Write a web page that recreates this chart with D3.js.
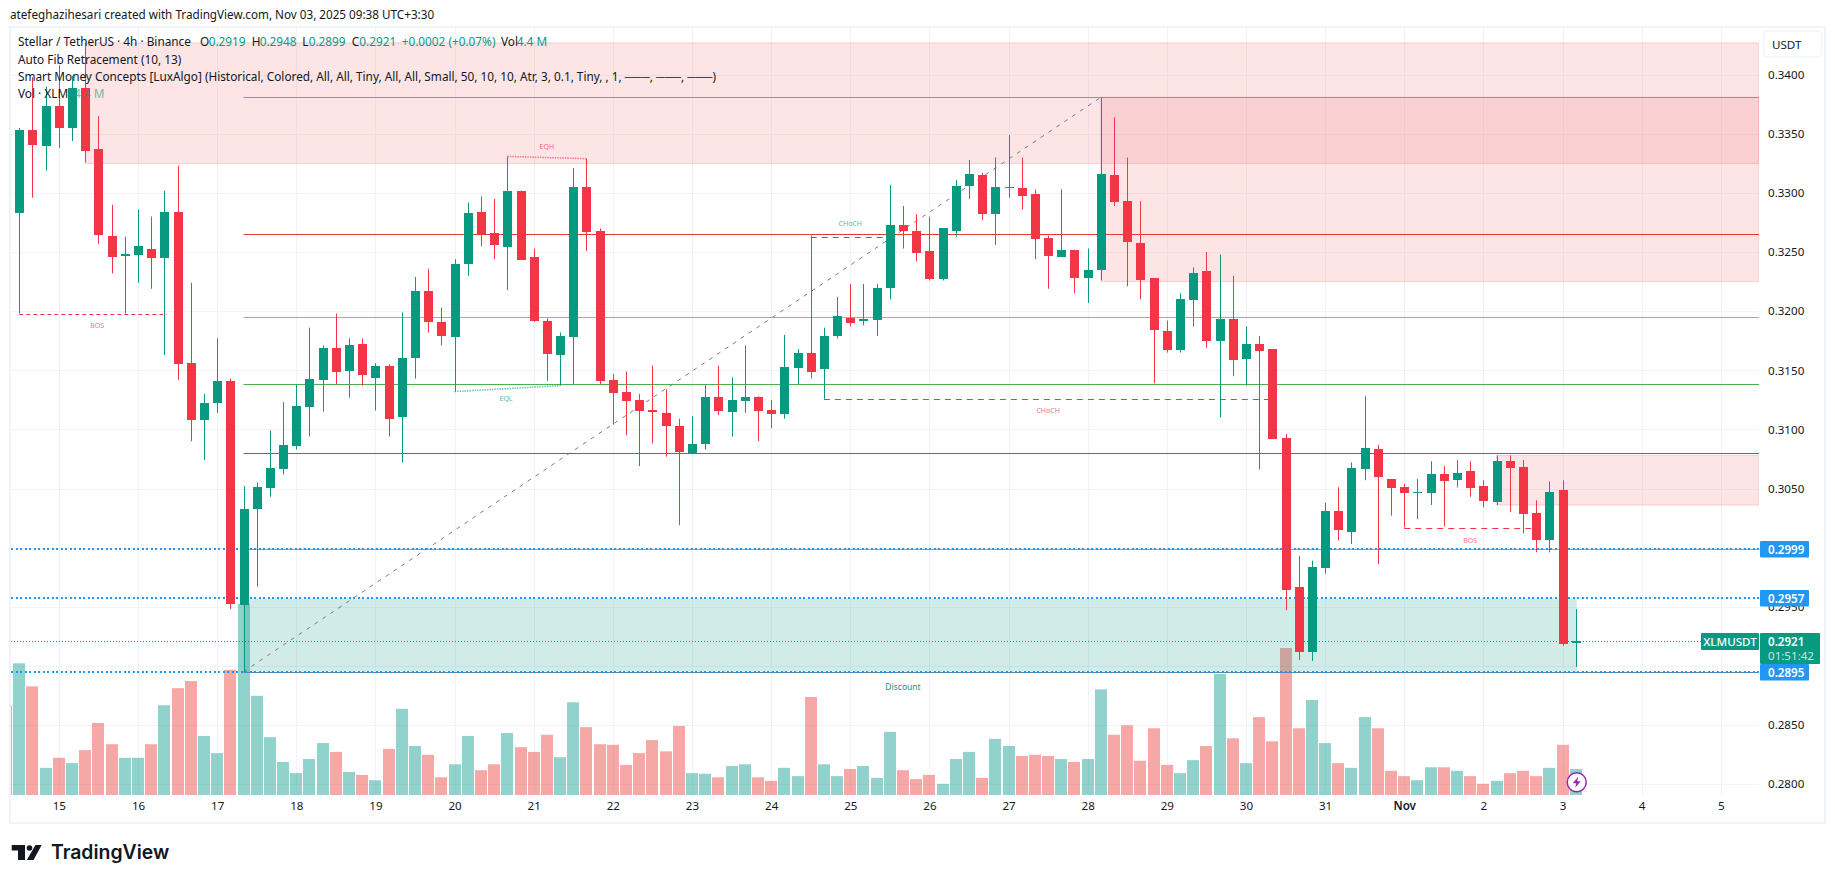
<!DOCTYPE html>
<html>
<head>
<meta charset="utf-8">
<script src="https://cdn.jsdelivr.net/npm/d3@7/dist/d3.min.js"></script>
<style>
    html, body { margin: 0; padding: 0; background: #fff; }
    svg { display: block; }
    text { font-family: "Noto Sans", sans-serif; fill: #131722; }
</style>
</head>
<body>
<svg id="chart" width="1835" height="883"></svg>
<script>
// ohlc po 4h svickach, prvni svicka je schovana za levym okrajem
const opens = [null,
    0.3283,0.3353,0.3340,0.3374,0.3355,0.3389,0.3337,0.3264,0.3246,0.3247,
    0.3253,0.3245,0.3284,0.3156,0.3108,0.3122,0.3141,0.2952,0.3032,0.3050,
    0.3067,0.3086,0.3119,0.3142,0.3169,0.3149,0.3172,0.3144,0.3154,0.3110,
    0.3160,0.3217,0.3191,0.3178,0.3240,0.3284,0.3266,0.3255,0.3302,0.3246,
    0.3192,0.3163,0.3178,0.3305,0.3268,0.3142,0.3132,0.3125,0.3116,0.3114,
    0.3103,0.3080,0.3087,0.3127,0.3115,0.3124,0.3127,0.3116,0.3113,0.3152,
    0.3165,0.3151,0.3179,0.3194,0.3191,0.3193,0.3220,0.3273,0.3268,0.3251,
    0.3227,0.3268,0.3306,0.3315,0.3282,0.3304,0.3304,0.3299,0.3262,0.3246,
    0.3252,0.3228,0.3235,0.3315,0.3293,0.3258,0.3228,0.3183,0.3167,0.3209,
    0.3234,0.3174,0.3193,0.3159,0.3172,0.3168,0.3093,0.2967,0.2912,0.2983,
    0.3031,0.3013,0.3066,0.3083,0.3058,0.3051,0.3046,0.3046,0.3062,0.3057,
    0.3065,0.3052,0.3038,0.3073,0.3068,0.3029,0.3006,0.3049,0.2919];
const highs = [null,
    0.3355,0.3398,0.3390,0.3408,0.3399,0.3427,0.3365,0.3290,0.3263,0.3286,
    0.3280,0.3302,0.3323,0.3224,0.3130,0.3177,0.3143,0.3052,0.3055,0.3099,
    0.3123,0.3138,0.3186,0.3171,0.3198,0.3177,0.3177,0.3156,0.3155,0.3199,
    0.3229,0.3236,0.3203,0.3244,0.3292,0.3297,0.3295,0.3331,0.3302,0.3253,
    0.3194,0.3182,0.3321,0.3329,0.3270,0.3147,0.3149,0.3130,0.3154,0.3134,
    0.3109,0.3111,0.3138,0.3154,0.3144,0.3171,0.3128,0.3125,0.3180,0.3168,
    0.3264,0.3186,0.3212,0.3223,0.3223,0.3223,0.3307,0.3289,0.3282,0.3280,
    0.3270,0.3311,0.3328,0.3317,0.3330,0.3349,0.3330,0.3303,0.3264,0.3303,
    0.3252,0.3253,0.3381,0.3364,0.3330,0.3293,0.3228,0.3192,0.3215,0.3237,
    0.3250,0.3248,0.3230,0.3187,0.3179,0.3168,0.3096,0.2993,0.2989,0.3038,
    0.3051,0.3072,0.3128,0.3087,0.3058,0.3054,0.3058,0.3073,0.3069,0.3074,
    0.3073,0.3057,0.3078,0.3078,0.3074,0.3040,0.3056,0.3057,0.2948];
const lows = [null,
    0.3198,0.3296,0.3319,0.3338,0.3344,0.3326,0.3257,0.3232,0.3198,0.3224,
    0.3219,0.3163,0.3142,0.3090,0.3074,0.3114,0.2948,0.2895,0.2967,0.3043,
    0.3062,0.3083,0.3094,0.3115,0.3138,0.3127,0.3137,0.3116,0.3094,0.3072,
    0.3143,0.3182,0.3171,0.3132,0.3230,0.3255,0.3244,0.3218,0.3244,0.3191,
    0.3141,0.3137,0.3138,0.3251,0.3138,0.3104,0.3095,0.3069,0.3088,0.3077,
    0.3019,0.3079,0.3083,0.3112,0.3094,0.3114,0.3090,0.3101,0.3109,0.3138,
    0.3143,0.3126,0.3177,0.3187,0.3188,0.3179,0.3210,0.3253,0.3242,0.3226,
    0.3226,0.3263,0.3295,0.3277,0.3256,0.3296,0.3286,0.3244,0.3219,0.3246,
    0.3215,0.3207,0.3226,0.3289,0.3221,0.3210,0.3139,0.3165,0.3165,0.3187,
    0.3169,0.3110,0.3145,0.3137,0.3066,0.3092,0.2947,0.2905,0.2904,0.2978,
    0.3006,0.3003,0.3057,0.2986,0.3027,0.3017,0.3024,0.3036,0.3018,0.3051,
    0.3043,0.3034,0.3036,0.3030,0.3012,0.2996,0.2996,0.2917,0.2899];
const closes = [null,
    0.3353,0.3340,0.3374,0.3355,0.3389,0.3336,0.3264,0.3246,0.3248,0.3255,
    0.3245,0.3284,0.3155,0.3108,0.3122,0.3141,0.2952,0.3033,0.3051,0.3067,
    0.3087,0.3120,0.3143,0.3169,0.3149,0.3171,0.3146,0.3154,0.3109,0.3160,
    0.3217,0.3191,0.3179,0.3240,0.3283,0.3265,0.3256,0.3302,0.3244,0.3192,
    0.3164,0.3179,0.3305,0.3267,0.3141,0.3131,0.3124,0.3116,0.3114,0.3103,
    0.3081,0.3088,0.3127,0.3115,0.3125,0.3127,0.3115,0.3113,0.3153,0.3165,
    0.3149,0.3179,0.3196,0.3190,0.3193,0.3220,0.3273,0.3268,0.3249,0.3227,
    0.3270,0.3306,0.3316,0.3282,0.3305,0.3305,0.3297,0.3261,0.3247,0.3252,
    0.3228,0.3235,0.3316,0.3292,0.3258,0.3227,0.3184,0.3167,0.3210,0.3232,
    0.3175,0.3193,0.3158,0.3172,0.3166,0.3092,0.2964,0.2912,0.2984,0.3031,
    0.3015,0.3067,0.3084,0.3059,0.3050,0.3046,0.3047,0.3062,0.3056,0.3063,
    0.3051,0.3039,0.3073,0.3067,0.3028,0.3006,0.3047,0.2919,0.2921];
// objem v milionech, index 0 patri schovane svicce
const volumes = [15.2,
    22.3,18.4,4.6,6.3,5.4,7.6,12.2,8.6,6.3,6.3,
    8.6,15.2,18.1,19.3,10.0,7.1,21.2,32.4,16.8,9.8,
    5.6,3.7,6.1,8.8,7.3,3.9,3.4,2.5,7.8,14.6,
    8.3,6.8,3.0,5.2,10.0,4.2,5.2,10.5,8.1,7.3,
    10.2,6.4,15.7,11.5,8.6,8.5,5.1,7.1,9.3,7.4,
    11.7,3.7,3.6,3.0,4.9,5.2,3.0,2.4,4.6,3.2,
    16.6,5.2,3.2,4.4,4.9,2.9,10.7,4.2,2.7,3.4,
    1.9,6.1,7.3,2.9,9.5,8.3,6.6,6.8,6.6,6.1,
    5.6,6.1,17.9,10.2,11.8,5.8,11.3,5.1,3.7,5.9,
    8.3,20.5,9.6,5.4,13.2,9.1,24.9,11.3,16.1,8.8,
    5.4,4.6,13.2,11.3,4.1,3.2,2.5,4.7,4.7,4.1,
    3.2,1.9,2.4,3.7,4.1,3.2,4.6,8.5,4.4];

const priceTicks = [0.3400,0.3350,0.3300,0.3250,0.3200,0.3150,0.3100,0.3050,0.3000,0.2950,0.2900,0.2850,0.2800];
// 0.3000 a 0.2900 jsou v originale schovane pod popisky alertu
const priceLabels = [0.3400,0.3350,0.3300,0.3250,0.3200,0.3150,0.3100,0.3050,0.2950,0.2850,0.2800];
const dayBars = [4,10,16,22,28,34,40,46,52,58,64,70,76,82,88,94,100,106,112,118,124,130];
const dayLabels = ["15","16","17","18","19","20","21","22","23","24","25","26","27","28","29","30","31","Nov","2","3","4","5"];

// zony: ceny a svicka, kde zacinaji
const zoneTops = [0.3427,0.3381,0.3078,0.2957];
const zoneBottoms = [0.3325,0.3225,0.3036,0.2895];
const zoneStarts = [6,83,113,18];
// urovne fibonacciho
const fibPrices = [0.3381,0.3265,0.3195,0.3138,0.3080,0.2999,0.2895];
const fibLine = {bars: [18,83], prices: [0.2895,0.3381]};
// alerty vpravo
const alertPrices = [0.2999,0.2957,0.2895];
// BOS / CHoCH
const breakNames = ["BOS","CHoCH","CHoCH","BOS"];
const breakPrices = [0.3198,0.3263,0.3126,0.3017];
const breakFrom = [1,61,62,106];
const breakTo = [12.2,67,96,116];
// EQH / EQL
const equalNames = ["EQH","EQL"];
const equalFrom = [38,34];
const equalTo = [44,42];
const equalFromPrice = [0.3331,0.3132];
const equalToPrice = [0.3329,0.3137];
const lastPrice = 0.2921;

const GREEN = "#089981", RED = "#f23645", BLUE = "#2196f3", GRID = "#f0f3fa";
const plotLeft = 11, plotRight = 1759, plotTop = 28, plotBottom = 795;

const svg = d3.select("#chart");
const x = d3.scaleLinear().domain([0, 130]).range([6.1, 1720.8]);
const y = d3.scaleLinear().domain([0.2800, 0.3400]).range([784, 74.8]);
const yVol = d3.scaleLinear().domain([0, 24.9]).range([plotBottom, 648]);
// zaokrouhleni na cele pixely, at jsou cary ostre
const px = v => Math.round(v) + 0.5;

svg.append("defs").append("clipPath").attr("id", "plot")
    .append("rect").attr("x", plotLeft).attr("y", plotTop)
    .attr("width", plotRight - plotLeft).attr("height", plotBottom - plotTop);

// horni titulek
svg.append("text").attr("x", 10).attr("y", 19).attr("font-size", 11.7)
    .text("atefeghazihesari created with TradingView.com, Nov 03, 2025 09:38 UTC+3:30");

// ramecek grafu
svg.append("rect").attr("x", 10).attr("y", 27).attr("width", 1815).attr("height", 796)
    .attr("fill", "none").attr("stroke", GRID).attr("stroke-width", 2);

// mrizka
const grid = svg.append("g").attr("stroke", GRID);
grid.selectAll("line.h").data(priceTicks).join("line").attr("class", "h")
    .attr("x1", plotLeft).attr("x2", plotRight).attr("y1", d => px(y(d))).attr("y2", d => px(y(d)));
grid.selectAll("line.v").data(dayBars).join("line").attr("class", "v")
    .attr("x1", d => px(x(d))).attr("x2", d => px(x(d))).attr("y1", plotTop).attr("y2", plotBottom);

const plot = svg.append("g").attr("clip-path", "url(#plot)");

// objem
plot.append("g").attr("opacity", 0.5).selectAll("rect").data(volumes).join("rect")
    .attr("x", (d, i) => Math.round(x(i) - 6))
    .attr("width", 12)
    .attr("y", d => yVol(d))
    .attr("height", d => plotBottom - yVol(d))
    .attr("fill", (d, i) => (i === 0 || closes[i] >= opens[i]) ? "#26a69a" : "#ef5350");

// zony
const zones = zoneTops.map((t, i) => i);
plot.append("g").selectAll("rect").data(zones).join("rect")
    .attr("x", i => x(zoneStarts[i]))
    .attr("width", i => (i === 3 ? x(119) + 1 : plotRight) - x(zoneStarts[i]))
    .attr("y", i => y(zoneTops[i]))
    .attr("height", i => y(zoneBottoms[i]) - y(zoneTops[i]))
    .attr("fill", i => i === 3 ? "rgba(8,153,129,0.185)" : "rgba(247,124,128,0.2)")
    .attr("stroke", i => i === 3 ? "none" : "rgba(247,124,128,0.3)");

// fib urovne
const fibColors = ["#8c94b3", "#e53935", "#81c784", "#4caf50", GREEN, "#64b5f6", "#787b86"];
plot.append("g").selectAll("line").data(fibPrices).join("line")
    .attr("x1", x(18)).attr("x2", plotRight)
    .attr("y1", d => px(y(d))).attr("y2", d => px(y(d)))
    .attr("stroke", (d, i) => fibColors[i]);
plot.append("line")
    .attr("x1", x(fibLine.bars[0])).attr("y1", y(fibLine.prices[0]))
    .attr("x2", x(fibLine.bars[1])).attr("y2", y(fibLine.prices[1]))
    .attr("stroke", "#787b86").attr("stroke-dasharray", "4,5.5");

// teckovane alerty a posledni cena
plot.append("g").selectAll("line").data(alertPrices).join("line")
    .attr("x1", plotLeft).attr("x2", plotRight)
    .attr("y1", d => Math.round(y(d))).attr("y2", d => Math.round(y(d)))
    .attr("stroke", BLUE).attr("stroke-width", 2).attr("stroke-dasharray", "2,2.5")
    .attr("shape-rendering", "crispEdges");
plot.append("line")
    .attr("x1", plotLeft).attr("x2", plotRight)
    .attr("y1", px(y(lastPrice))).attr("y2", px(y(lastPrice)))
    .attr("stroke", GREEN).attr("stroke-dasharray", "1,2");

// BOS a CHoCH
const breakColors = [RED, GREEN, RED, RED];
const breakDash = ["4,3", "6,5", "6,5", "6,5"];
const breakLabelBar = [6.9, 64, 79, 111];
const breakLabelDy = [12.4, -13.4, 11.6, 12.8];
plot.append("g").selectAll("line").data(breakNames).join("line")
    .attr("x1", (d, i) => x(breakFrom[i])).attr("x2", (d, i) => x(breakTo[i]))
    .attr("y1", (d, i) => px(y(breakPrices[i]))).attr("y2", (d, i) => px(y(breakPrices[i])))
    .attr("stroke", (d, i) => breakColors[i]).attr("stroke-dasharray", (d, i) => breakDash[i]);
svg.append("g").selectAll("text").data(breakNames).join("text")
    .attr("x", (d, i) => x(breakLabelBar[i]))
    .attr("y", (d, i) => y(breakPrices[i]) + breakLabelDy[i])
    .attr("dy", "0.35em")
    .attr("text-anchor", "middle").attr("font-size", 7)
    .style("fill", (d, i) => breakColors[i]).style("opacity", 0.7)
    .text(d => d);

// EQH a EQL
const equalColors = [RED, GREEN];
const equalLabelBar = [41, 37.9];
const equalLabelDy = [-10, 7];
plot.append("g").selectAll("line").data(equalNames).join("line")
    .attr("x1", (d, i) => x(equalFrom[i])).attr("x2", (d, i) => x(equalTo[i]))
    .attr("y1", (d, i) => y(equalFromPrice[i])).attr("y2", (d, i) => y(equalToPrice[i]))
    .attr("stroke", (d, i) => equalColors[i]).attr("stroke-opacity", 0.6)
    .attr("stroke-width", 1.5).attr("stroke-dasharray", "1.5,1");
svg.append("g").selectAll("text").data(equalNames).join("text")
    .attr("x", (d, i) => x(equalLabelBar[i]))
    .attr("y", (d, i) => y(equalFromPrice[i]) + equalLabelDy[i])
    .attr("dy", "0.35em")
    .attr("text-anchor", "middle").attr("font-size", 7)
    .style("fill", (d, i) => equalColors[i]).style("opacity", 0.7)
    .text(d => d);

svg.append("text").attr("x", 903).attr("y", 687).attr("dy", "0.35em")
    .attr("text-anchor", "middle").attr("font-size", 8.5)
    .style("fill", GREEN).text("Discount");

// svicky
const bars = d3.range(1, closes.length);
const color = i => closes[i] >= opens[i] ? GREEN : RED;
const candles = plot.append("g");
candles.selectAll("line").data(bars).join("line")
    .attr("x1", i => px(x(i))).attr("x2", i => px(x(i)))
    .attr("y1", i => y(highs[i])).attr("y2", i => y(lows[i]))
    .attr("stroke", color);
candles.selectAll("rect").data(bars).join("rect")
    .attr("x", i => Math.round(x(i)) - 4)
    .attr("width", 9)
    .attr("y", i => Math.round(y(Math.max(opens[i], closes[i]))))
    .attr("height", i => Math.max(1, Math.round(Math.abs(y(opens[i]) - y(closes[i])))))
    .attr("fill", color);

// osa cen
const yAxis = d3.axisRight(y).tickValues(priceLabels).tickSize(0).tickPadding(0).tickFormat(d3.format(".4f"));
const yAxisG = svg.append("g").attr("transform", `translate(1768,0)`).call(yAxis);
yAxisG.select(".domain").remove();
yAxisG.selectAll("text").attr("font-size", 11.6).attr("font-family", null);

// osa casu
const xAxis = d3.axisBottom(x).tickValues(dayBars).tickSize(0).tickPadding(0).tickFormat((d, i) => dayLabels[i]);
const xAxisG = svg.append("g").attr("transform", `translate(0,802)`).call(xAxis);
xAxisG.select(".domain").remove();
xAxisG.selectAll("text").attr("font-size", 11.6).attr("font-family", null)
    .attr("font-weight", (d, i) => dayLabels[i] === "Nov" ? 600 : 400);

// USDT tlacitko
svg.append("rect").attr("x", 1763.5).attr("y", 31).attr("width", 58).attr("height", 26).attr("rx", 4)
    .attr("fill", "#fff").attr("stroke", GRID).attr("stroke-width", 1.5);
svg.append("text").attr("x", 1772).attr("y", 44.5).attr("dy", "0.35em").attr("font-size", 11.6).text("USDT");

// popisky alertu
const alertLabels = svg.append("g").selectAll("g").data(alertPrices).join("g")
    .attr("transform", d => `translate(1760,${Math.round(y(d)) - 8})`);
alertLabels.append("rect").attr("width", 49).attr("height", 16.5).attr("rx", 1).attr("fill", BLUE);
alertLabels.append("text").attr("x", 8).attr("y", 8.5).attr("dy", "0.35em")
    .attr("font-size", 11.6).attr("font-weight", 600).style("fill", "#fff").text(d => d.toFixed(4));

// posledni cena
const priceBox = svg.append("g").attr("transform", `translate(1760,633)`);
priceBox.append("rect").attr("width", 60).attr("height", 31).attr("rx", 1).attr("fill", GREEN);
priceBox.append("text").attr("x", 8).attr("y", 8.5).attr("dy", "0.35em")
    .attr("font-size", 11.6).attr("font-weight", 600).style("fill", "#fff").text(lastPrice.toFixed(4));
priceBox.append("text").attr("x", 8).attr("y", 23).attr("dy", "0.35em")
    .attr("font-size", 11.6).style("fill", "#fff").style("opacity", 0.75).text("01:51:42");
const tag = svg.append("g").attr("transform", `translate(1701,633)`);
tag.append("rect").attr("width", 58).attr("height", 17).attr("rx", 1).attr("fill", GREEN);
tag.append("text").attr("x", 29).attr("y", 8.5).attr("dy", "0.35em").attr("text-anchor", "middle")
    .attr("font-size", 11.6).attr("font-weight", 500).style("fill", "#fff").text("XLMUSDT");

// blesk na posledni svicce
const bolt = svg.append("g").attr("transform", `translate(${x(119) + 1},782.3)`);
bolt.append("circle").attr("r", 9.5).attr("fill", "#fff").attr("stroke", "#9c27b0").attr("stroke-width", 1.5);
bolt.append("path").attr("d", "M1.5,-5.5 L-4,1 L-0.5,1 L-1.5,5.5 L4,-1 L0.5,-1 Z").attr("fill", "#9c27b0");

// legenda
const legend = svg.append("g").attr("font-size", 11.8);
const row1 = [
    [18, "Stellar / TetherUS · 4h · Binance", "#131722"],
    [200, "O", "#131722"], [208.7, "0.2919", GREEN],
    [251.7, "H", "#131722"], [259.7, "0.2948", GREEN],
    [302.3, "L", "#131722"], [308.7, "0.2899", GREEN],
    [351.7, "C", "#131722"], [359.3, "0.2921", GREEN],
    [401.7, "+0.0002 (+0.07%)", GREEN],
    [501, "Vol", "#131722"], [516.7, "4.4 M", GREEN]
];
legend.selectAll("text.r1").data(row1).join("text").attr("class", "r1")
    .attr("x", d => d[0]).attr("y", 46).text(d => d[1]).style("fill", d => d[2]);
legend.append("text").attr("x", 18).attr("y", 63.5).text("Auto Fib Retracement (10, 13)");
legend.append("text").attr("x", 18).attr("y", 80.5)
    .text("Smart Money Concepts [LuxAlgo] (Historical, Colored, All, All, Tiny, All, All, Small, 50, 10, 10, Atr, 3, 0.1, Tiny, , 1, ───, ───, ───)");
legend.append("text").attr("x", 18).attr("y", 97.5).text("Vol · XLM");
legend.append("text").attr("x", 74).attr("y", 97.5).style("fill", GREEN).style("opacity", 0.6).text("4.4 M");

// logo
const logo = svg.append("g").attr("fill", "#131722");
logo.append("path").attr("d", "M11.7,845 H25 V860 H18 V850.5 H11.7 Z");
logo.append("circle").attr("cx", 29.5).attr("cy", 848).attr("r", 2.8);
logo.append("path").attr("d", "M35.5,845 H41.7 L33.5,860 H26.8 Z");
svg.append("text").attr("x", 51).attr("y", 859).attr("font-size", 19.4).attr("font-weight", 600)
    .style("font-family", "Inter, sans-serif").text("TradingView");
</script>
</body>
</html>
